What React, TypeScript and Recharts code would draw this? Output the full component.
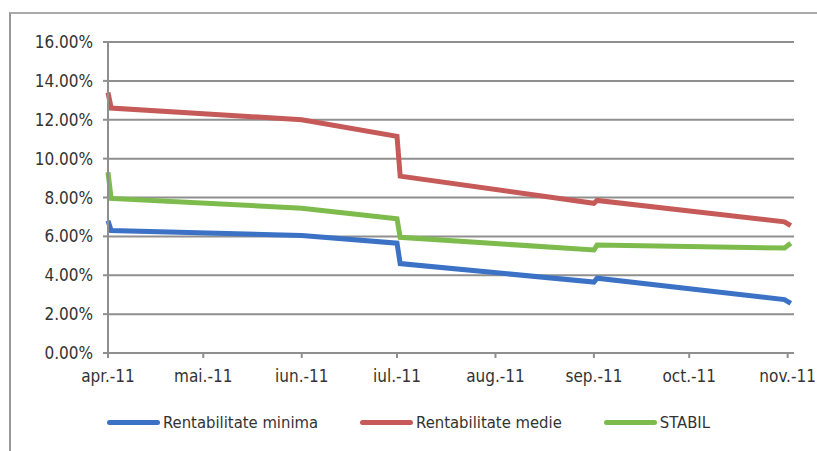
import React from 'react';
import { LineChart, Line, XAxis, YAxis, CartesianGrid } from 'recharts';

// days counted from 1 Apr 2011
const days = [0, 1, 61, 91, 92, 153, 154, 213, 215];
const minima = [6.8, 6.3, 6.05, 5.65, 4.6, 3.65, 3.85, 2.75, 2.55];
const medie = [13.4, 12.6, 12.0, 11.15, 9.1, 7.7, 7.85, 6.75, 6.55];
const stabil = [9.3, 7.95, 7.45, 6.9, 5.95, 5.3, 5.55, 5.4, 5.65];

const monthTicks = [0, 30, 61, 91, 122, 153, 183, 214];
const monthLabels = ['apr.-11', 'mai.-11', 'iun.-11', 'iul.-11', 'aug.-11', 'sep.-11', 'oct.-11', 'nov.-11'];
const yTicks = [0, 2, 4, 6, 8, 10, 12, 14, 16];

const series = [
  { key: 'minima', name: 'Rentabilitate minima', color: '#3c72c6' },
  { key: 'medie', name: 'Rentabilitate medie', color: '#c65a58' },
  { key: 'stabil', name: 'STABIL', color: '#7dbc4c' },
];

const data = days.map((d, i) => ({ day: d, minima: minima[i], medie: medie[i], stabil: stabil[i] }));

const FONT = '"DejaVu Sans Condensed", "DejaVu Sans", sans-serif';

export default function App() {
  return (
    <div style={{ position: 'absolute', left: 0, top: 0, width: 817, height: 451, background: '#fff' }}>
      <div style={{ position: 'absolute', left: 9, top: 12, width: 808, height: 439, borderLeft: '2px solid #999', borderTop: '2px solid #aaa' }} />
      <LineChart width={817} height={451} data={data} margin={{ top: 42, right: 23, left: 0, bottom: 68 }}
        style={{ position: 'absolute', left: 0, top: 0 }}>
        <CartesianGrid vertical={false} stroke="#8f8f8f" strokeWidth={2} />
        <XAxis
          dataKey="day"
          type="number"
          domain={[0, 216]}
          ticks={monthTicks}
          tickFormatter={(v: number) => monthLabels[monthTicks.indexOf(v)]}
          height={30}
          stroke="#8f8f8f"
          strokeWidth={2}
          tickSize={5}
          tickMargin={12}
          tick={{ fill: '#333', fontSize: 17, fontFamily: FONT }}
        />
        <YAxis
          width={108}
          domain={[0, 16]}
          ticks={yTicks}
          tickFormatter={(v: number) => v.toFixed(2) + '%'}
          stroke="#8f8f8f"
          strokeWidth={2}
          tickSize={5}
          tickMargin={10}
          tick={{ fill: '#333', fontSize: 17, fontFamily: FONT }}
        />
        {series.map((s) => (
          <Line key={s.key} type="linear" dataKey={s.key} name={s.name} stroke={s.color} strokeWidth={5} dot={false} isAnimationActive={false} />
        ))}
      </LineChart>
      <div style={{ position: 'absolute', left: 107, top: 413, display: 'flex', alignItems: 'center', gap: 42, fontFamily: FONT, fontSize: 16.5, color: '#333' }}>
        {series.map((s) => (
          <div key={s.key} style={{ display: 'flex', alignItems: 'center' }}>
            <div style={{ width: 53, height: 5, borderRadius: 3, background: s.color, marginRight: 3 }} />
            <span>{s.name}</span>
          </div>
        ))}
      </div>
    </div>
  );
}
